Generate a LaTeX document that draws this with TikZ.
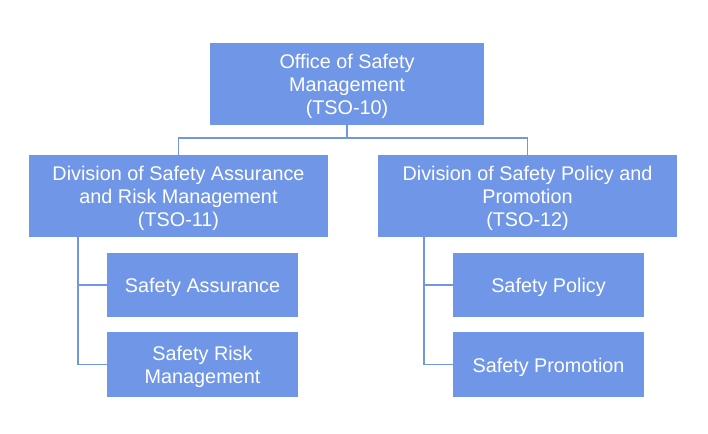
\documentclass[tikz,border=0pt]{standalone}
\usepackage{fontspec}
\setmainfont{Liberation Sans}
\definecolor{boxblue}{RGB}{112,150,232}
\definecolor{lineblue}{RGB}{114,150,230}
\begin{document}
\begin{tikzpicture}[x=1pt,y=-1pt,
  orgbox/.style={fill=boxblue, draw=none, inner sep=0pt},
  orgtext/.style={text=white, align=center, inner sep=0pt, yshift=-2.5pt,
    font=\fontsize{19.8}{23}\selectfont},
  conn/.style={draw=lineblue, line width=1.6pt}]
\useasboundingbox (0,0) rectangle (708,433);
\node[orgbox, minimum width=274pt, minimum height=82pt] (top) at (347,84) {};
\node[orgtext] (topT) at (top.center) {Office of Safety\\Management\\(TSO-10)};
\node[orgbox, minimum width=299pt, minimum height=82pt] (ldiv) at (178.5,196) {};
\node[orgtext] (ldivT) at (ldiv.center) {Division of Safety Assurance\\and Risk Management\\(TSO-11)};
\node[orgbox, minimum width=299pt, minimum height=82pt] (rdiv) at (527.5,196) {};
\node[orgtext] (rdivT) at (rdiv.center) {Division of Safety Policy and\\Promotion\\(TSO-12)};
\node[orgbox, minimum width=191pt, minimum height=64pt] (sa) at (202.5,285) {};
\node[orgtext] (saT) at (sa.center) {Safety Assurance};
\node[orgbox, minimum width=191pt, minimum height=65pt] (srm) at (202.5,364.5) {};
\node[orgtext] (srmT) at (srm.center) {Safety Risk\\Management};
\node[orgbox, minimum width=191pt, minimum height=64pt] (sp) at (548.5,285) {};
\node[orgtext] (spT) at (sp.center) {Safety Policy};
\node[orgbox, minimum width=191pt, minimum height=65pt] (spr) at (548.5,364.5) {};
\node[orgtext] (sprT) at (spr.center) {Safety Promotion};
\coordinate (bus) at (347,138);
\coordinate (lx) at (78,0);
\coordinate (rx) at (424,0);
\draw[conn] (top.south) -- (bus) -| (ldiv.north);
\draw[conn] (bus) -| (rdiv.north);
\draw[conn] (ldiv.south -| lx) |- (sa.west);
\draw[conn] (ldiv.south -| lx) |- (srm.west);
\draw[conn] (rdiv.south -| rx) |- (sp.west);
\draw[conn] (rdiv.south -| rx) |- (spr.west);
\end{tikzpicture}
\end{document}
